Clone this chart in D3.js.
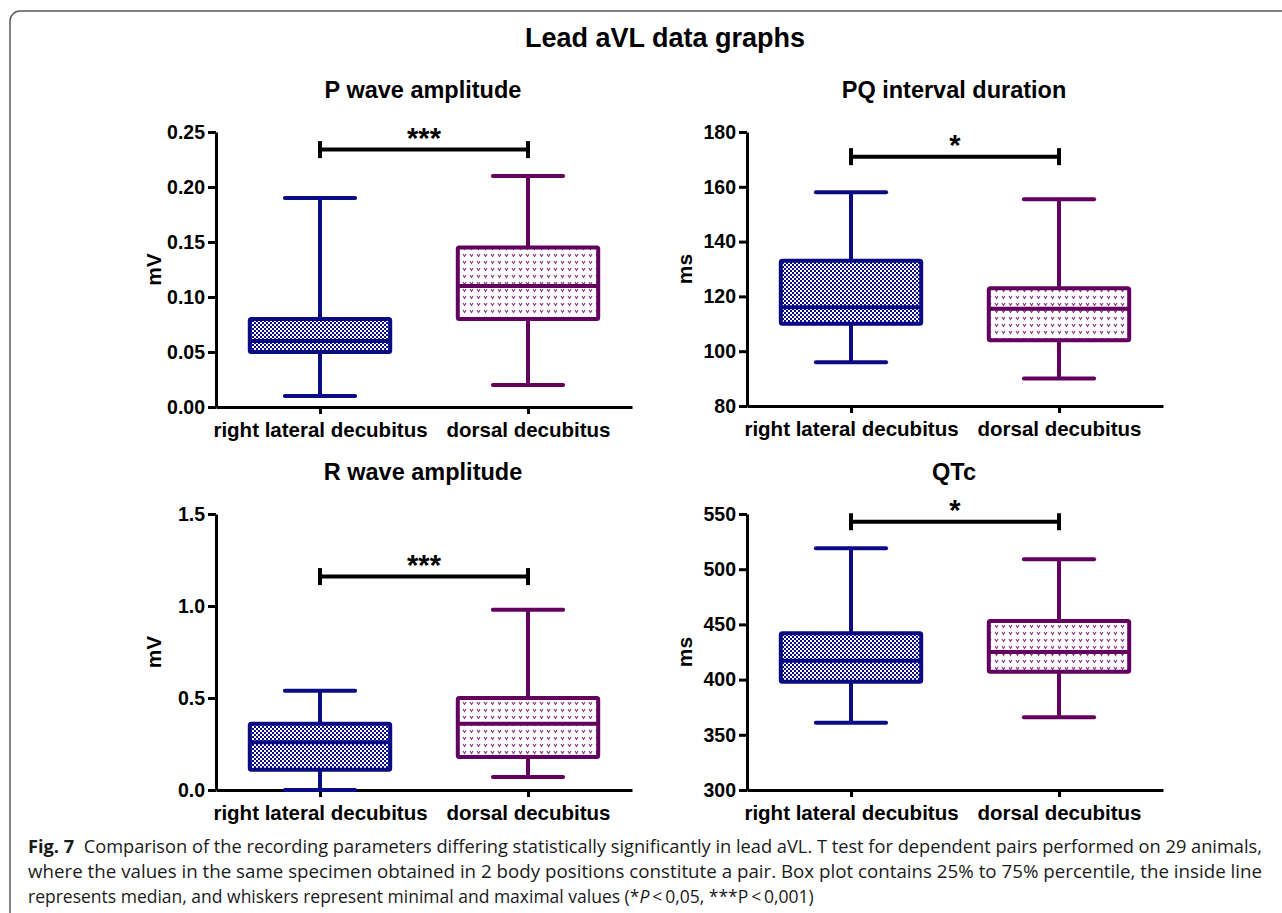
<!DOCTYPE html>
<html>
<head>
<meta charset="utf-8">
<script src="https://cdn.jsdelivr.net/npm/d3@7"></script>
<style>
  html, body { margin: 0; padding: 0; background: #fff; }
  svg { display: block; }
</style>
</head>
<body>
<svg id="fig" width="1282" height="913"></svg>
<script>
// Categories shared by every panel
const categories = ["right lateral decubitus", "dorsal decubitus"];

// Box statistics per position: [min, q1, median, q3, max]
const pWaveRight  = [0.01, 0.05, 0.06, 0.08, 0.19];
const pWaveDorsal = [0.02, 0.08, 0.11, 0.145, 0.21];
const pqRight     = [96, 110, 116, 133, 158];
const pqDorsal    = [90, 104, 115.5, 123, 155.5];
const rWaveRight  = [0.0, 0.11, 0.26, 0.36, 0.54];
const rWaveDorsal = [0.07, 0.18, 0.36, 0.50, 0.98];
const qtcRight    = [361, 398, 417, 442, 519];
const qtcDorsal   = [366, 407, 425, 453, 509];

// Y axis tick values
const pWaveTicks = [0.00, 0.05, 0.10, 0.15, 0.20, 0.25];
const pqTicks    = [80, 100, 120, 140, 160, 180];
const rWaveTicks = [0.0, 0.5, 1.0, 1.5];
const qtcTicks   = [300, 350, 400, 450, 500, 550];

// Significance brackets: [level, label]
const pWaveSig = [0.234, "***"];
const pqSig    = [171, "*"];
const rWaveSig = [1.16, "***"];
const qtcSig   = [543, "*"];

const captionLines = [
  ["Fig. 7", "Comparison of the recording parameters differing statistically significantly in lead aVL. T test for dependent pairs performed on 29 animals,"],
  ["", "where the values in the same specimen obtained in 2 body positions constitute a pair. Box plot contains 25% to 75% percentile, the inside line"],
  ["", "represents median, and whiskers represent minimal and maximal values (*"]
];

const NAVY = "#0b0b84";
const PURPLE = "#63005f";
const chartFont = "'Liberation Sans', Arial, Helvetica, sans-serif";

const svg = d3.select("#fig");

// Fill patterns
const defs = svg.append("defs");
const checker = defs.append("pattern")
  .attr("id", "checkNavy").attr("patternUnits", "userSpaceOnUse")
  .attr("width", 4).attr("height", 4);
checker.append("rect").attr("width", 4).attr("height", 4).attr("fill", "#fff");
checker.append("rect").attr("x", 0).attr("y", 0).attr("width", 2).attr("height", 2).attr("fill", NAVY);
checker.append("rect").attr("x", 2).attr("y", 2).attr("width", 2).attr("height", 2).attr("fill", NAVY);

const hearts = defs.append("pattern")
  .attr("id", "heartPurple").attr("patternUnits", "userSpaceOnUse")
  .attr("width", 7).attr("height", 7);
hearts.append("rect").attr("width", 7).attr("height", 7).attr("fill", "#fff");
hearts.append("path")
  .attr("d", "M1,2 L2.5,4.5 L4,2")
  .attr("fill", "none").attr("stroke", PURPLE).attr("stroke-width", 1.1).attr("opacity", 0.8);

// Figure frame with a rounded top-left corner
svg.append("path")
  .attr("d", "M10,913 V21 A10,10 0 0 1 20,11 H1282")
  .attr("fill", "none").attr("stroke", "#5a5a5a").attr("stroke-width", 1.5);

// Overall title
svg.append("text")
  .attr("x", 665).attr("y", 47)
  .attr("text-anchor", "middle")
  .style("font-family", chartFont).style("font-weight", "bold").style("font-size", "27px")
  .text("Lead aVL data graphs");

const panels = [
  { title: "P wave amplitude", unit: "mV", left: 216, top: 132, bottom: 407,
    domain: [0, 0.25], ticks: pWaveTicks, fmt: d3.format(".2f"),
    boxes: [pWaveRight, pWaveDorsal], sig: pWaveSig },
  { title: "PQ interval duration", unit: "ms", left: 747, top: 132, bottom: 406,
    domain: [80, 180], ticks: pqTicks, fmt: d3.format("d"),
    boxes: [pqRight, pqDorsal], sig: pqSig },
  { title: "R wave amplitude", unit: "mV", left: 216, top: 514, bottom: 790,
    domain: [0, 1.5], ticks: rWaveTicks, fmt: d3.format(".1f"),
    boxes: [rWaveRight, rWaveDorsal], sig: rWaveSig },
  { title: "QTc", unit: "ms", left: 747, top: 514, bottom: 790,
    domain: [300, 550], ticks: qtcTicks, fmt: d3.format("d"),
    boxes: [qtcRight, qtcDorsal], sig: qtcSig }
];

const axisWidth = 416;
const fills = ["url(#checkNavy)", "url(#heartPurple)"];
const strokes = [NAVY, PURPLE];

panels.forEach(p => {
  const g = svg.append("g");
  const x = d3.scalePoint().domain(categories).range([p.left, p.left + axisWidth]).padding(0.5);
  const y = d3.scaleLinear().domain(p.domain).range([p.bottom, p.top]);
  const boxW = x.step() * 0.675;
  const capW = boxW / 2;

  // Panel title
  g.append("text")
    .attr("x", p.left + axisWidth / 2 - 1).attr("y", p.top - 34)
    .attr("text-anchor", "middle")
    .style("font-family", chartFont).style("font-weight", "bold").style("font-size", "23.5px")
    .text(p.title);

  // Y axis
  const yAxis = g.append("g")
    .attr("transform", `translate(${p.left},0)`)
    .call(d3.axisLeft(y).tickValues(p.ticks).tickFormat(p.fmt).tickSize(8).tickPadding(3).tickSizeOuter(0));
  yAxis.select(".domain").attr("stroke", "#000").attr("stroke-width", 3);
  yAxis.selectAll(".tick line").attr("stroke", "#000").attr("stroke-width", 3);
  yAxis.selectAll(".tick text")
    .style("font-family", chartFont).style("font-weight", "bold").style("font-size", "19.5px").attr("fill", "#000");

  // X axis
  const xAxis = g.append("g")
    .attr("transform", `translate(0,${p.bottom})`)
    .call(d3.axisBottom(x).tickSize(7).tickPadding(8).tickSizeOuter(0));
  xAxis.select(".domain").attr("stroke", "#000").attr("stroke-width", 3);
  xAxis.selectAll(".tick line").attr("stroke", "#000").attr("stroke-width", 3);
  xAxis.selectAll(".tick text")
    .style("font-family", chartFont).style("font-weight", "bold").style("font-size", "20.5px").attr("fill", "#000");

  // Y axis label
  g.append("text")
    .attr("transform", `translate(${p.left - 55},${(p.top + p.bottom) / 2}) rotate(-90)`)
    .attr("text-anchor", "middle")
    .style("font-family", chartFont).style("font-weight", "bold").style("font-size", "21px")
    .text(p.unit);

  // Box plots
  p.boxes.forEach((b, i) => {
    const cx = x(categories[i]);
    const [mn, q1, med, q3, mx] = b;
    const bg = g.append("g").attr("stroke", strokes[i]).attr("stroke-width", 4).attr("fill", "none");
    // whiskers
    bg.append("line").attr("x1", cx).attr("x2", cx).attr("y1", y(q3)).attr("y2", y(mx));
    bg.append("line").attr("x1", cx).attr("x2", cx).attr("y1", y(q1)).attr("y2", y(mn));
    bg.append("line").attr("x1", cx - capW / 2).attr("x2", cx + capW / 2).attr("y1", y(mx)).attr("y2", y(mx))
      .attr("stroke-linecap", "round");
    bg.append("line").attr("x1", cx - capW / 2).attr("x2", cx + capW / 2).attr("y1", y(mn)).attr("y2", y(mn))
      .attr("stroke-linecap", "round");
    // box
    bg.append("rect")
      .attr("x", cx - boxW / 2).attr("y", y(q3))
      .attr("width", boxW).attr("height", y(q1) - y(q3))
      .attr("fill", fills[i]).attr("rx", 1.5);
    // median
    bg.append("line").attr("x1", cx - boxW / 2).attr("x2", cx + boxW / 2).attr("y1", y(med)).attr("y2", y(med));
  });

  // Significance bracket
  const [level, label] = p.sig;
  const x1 = x(categories[0]), x2 = x(categories[1]), sy = y(level);
  const sg = g.append("g").attr("stroke", "#000").attr("stroke-width", 4);
  sg.append("line").attr("x1", x1).attr("x2", x2).attr("y1", sy).attr("y2", sy);
  sg.append("line").attr("x1", x1).attr("x2", x1).attr("y1", sy - 8.5).attr("y2", sy + 8.5);
  sg.append("line").attr("x1", x2).attr("x2", x2).attr("y1", sy - 8.5).attr("y2", sy + 8.5);
  g.append("text")
    .attr("x", (x1 + x2) / 2).attr("y", sy - 2)
    .attr("text-anchor", "middle")
    .style("font-family", chartFont).style("font-weight", "bold").style("font-size", "29px")
    .text(label);
});

// Caption
const capFont = "'Open Sans', 'Noto Sans', sans-serif";
const capX = 28;
const capBase = [853, 878, 903];
const capLengths = [1234, 1234, null];

captionLines.forEach((ln, i) => {
  const t = svg.append("text")
    .attr("x", capX).attr("y", capBase[i])
    .style("font-family", capFont).style("font-size", "17.5px").attr("fill", "#1a1a1a");
  if (ln[0]) {
    t.append("tspan").style("font-weight", "bold").text(ln[0] + "\u00a0\u00a0");
  }
  t.append("tspan").text(ln[1]);
  if (i === 2) {
    t.append("tspan").style("font-style", "italic").text("P");
    t.append("tspan").text("\u2009<\u20090,05, ***P\u2009<\u20090,001)");
  }
  if (capLengths[i]) {
    t.attr("textLength", capLengths[i]).attr("lengthAdjust", "spacingAndGlyphs");
  } else {
    const w = t.node().getComputedTextLength();
    const target = 802;
    if (w > target) t.attr("textLength", target).attr("lengthAdjust", "spacingAndGlyphs");
  }
});
</script>
</body>
</html>
